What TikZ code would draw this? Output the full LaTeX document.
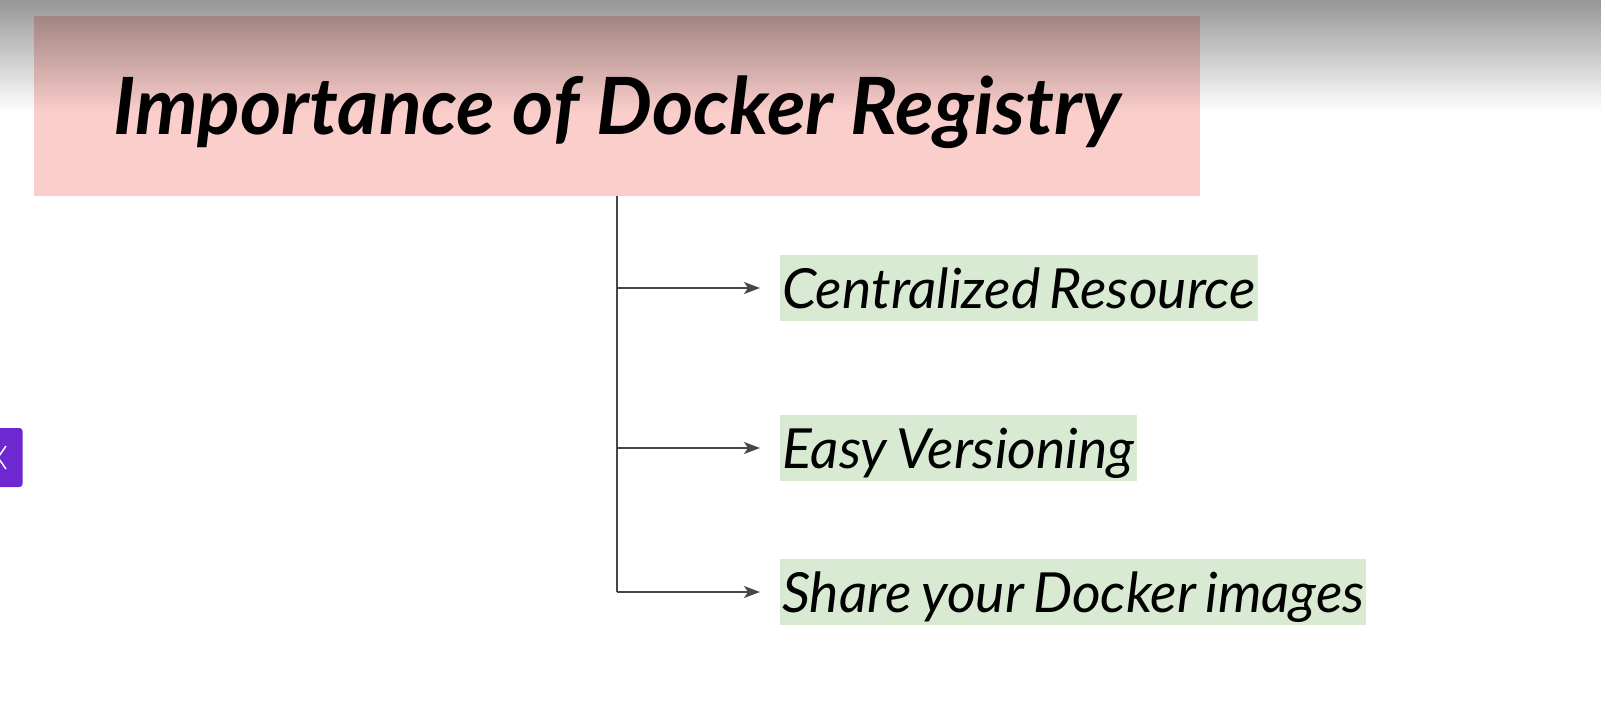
\documentclass[tikz,border=0pt]{standalone}
\usepackage{fontspec}
\setmainfont{Lato}
\newfontfamily\itemfont{Lato}[WordSpace=0.72]
\usetikzlibrary{arrows.meta,positioning,fadings}
\definecolor{titlepink}{HTML}{FACECB}
\definecolor{itemgreen}{HTML}{D9EAD3}
\definecolor{linegray}{HTML}{474747}
\definecolor{tabpurple}{HTML}{6D28D2}
\tikzfading[name=topfade, top color=transparent!59, bottom color=transparent!100]
\tikzset{
  titlebox/.style={fill=titlepink, minimum width=1166pt, minimum height=180pt, inner sep=0pt,
    text height=56pt, text depth=0pt, font=\fontsize{79}{94}\selectfont\bfseries\itshape},
  itembox/.style={fill=itemgreen, anchor=west, inner xsep=2pt, inner ysep=0pt, minimum height=66pt,
    text height=40pt, text depth=0pt, font=\itemfont\fontsize{55.3}{66}\selectfont\itshape},
  branch/.style={draw=linegray, line width=1.4pt},
}
\begin{document}
\begin{tikzpicture}[x=1pt,y=-1pt,line join=round,>={Stealth[length=16pt,width=12pt,inset=4pt]}]
\useasboundingbox (0,0) rectangle (1605,726);
\node[titlebox] (title) at (617,106) {Importance of Docker Registry};
\foreach \name/\yy/\txt in {central/288/Centralized Resource,version/448/Easy Versioning,share/592/Share your Docker images}{
  \node[itembox] (\name) at (780,\yy) {\txt};
  \draw[branch,->] (title.south |- \name.west) -- ([xshift=-20pt]\name.west);
}
\draw[branch] (title.south) -- (title.south |- share.west);
% shadow along the top
\fill[black, path fading=topfade] (0,0) rectangle (1605,112);
% side tab
\fill[tabpurple, rounded corners=3pt] (-10,428) rectangle (22.5,487);
\draw[white, line width=1.5pt] (6,446) -- (-2,457.5) -- (6,469);
\end{tikzpicture}
\end{document}
